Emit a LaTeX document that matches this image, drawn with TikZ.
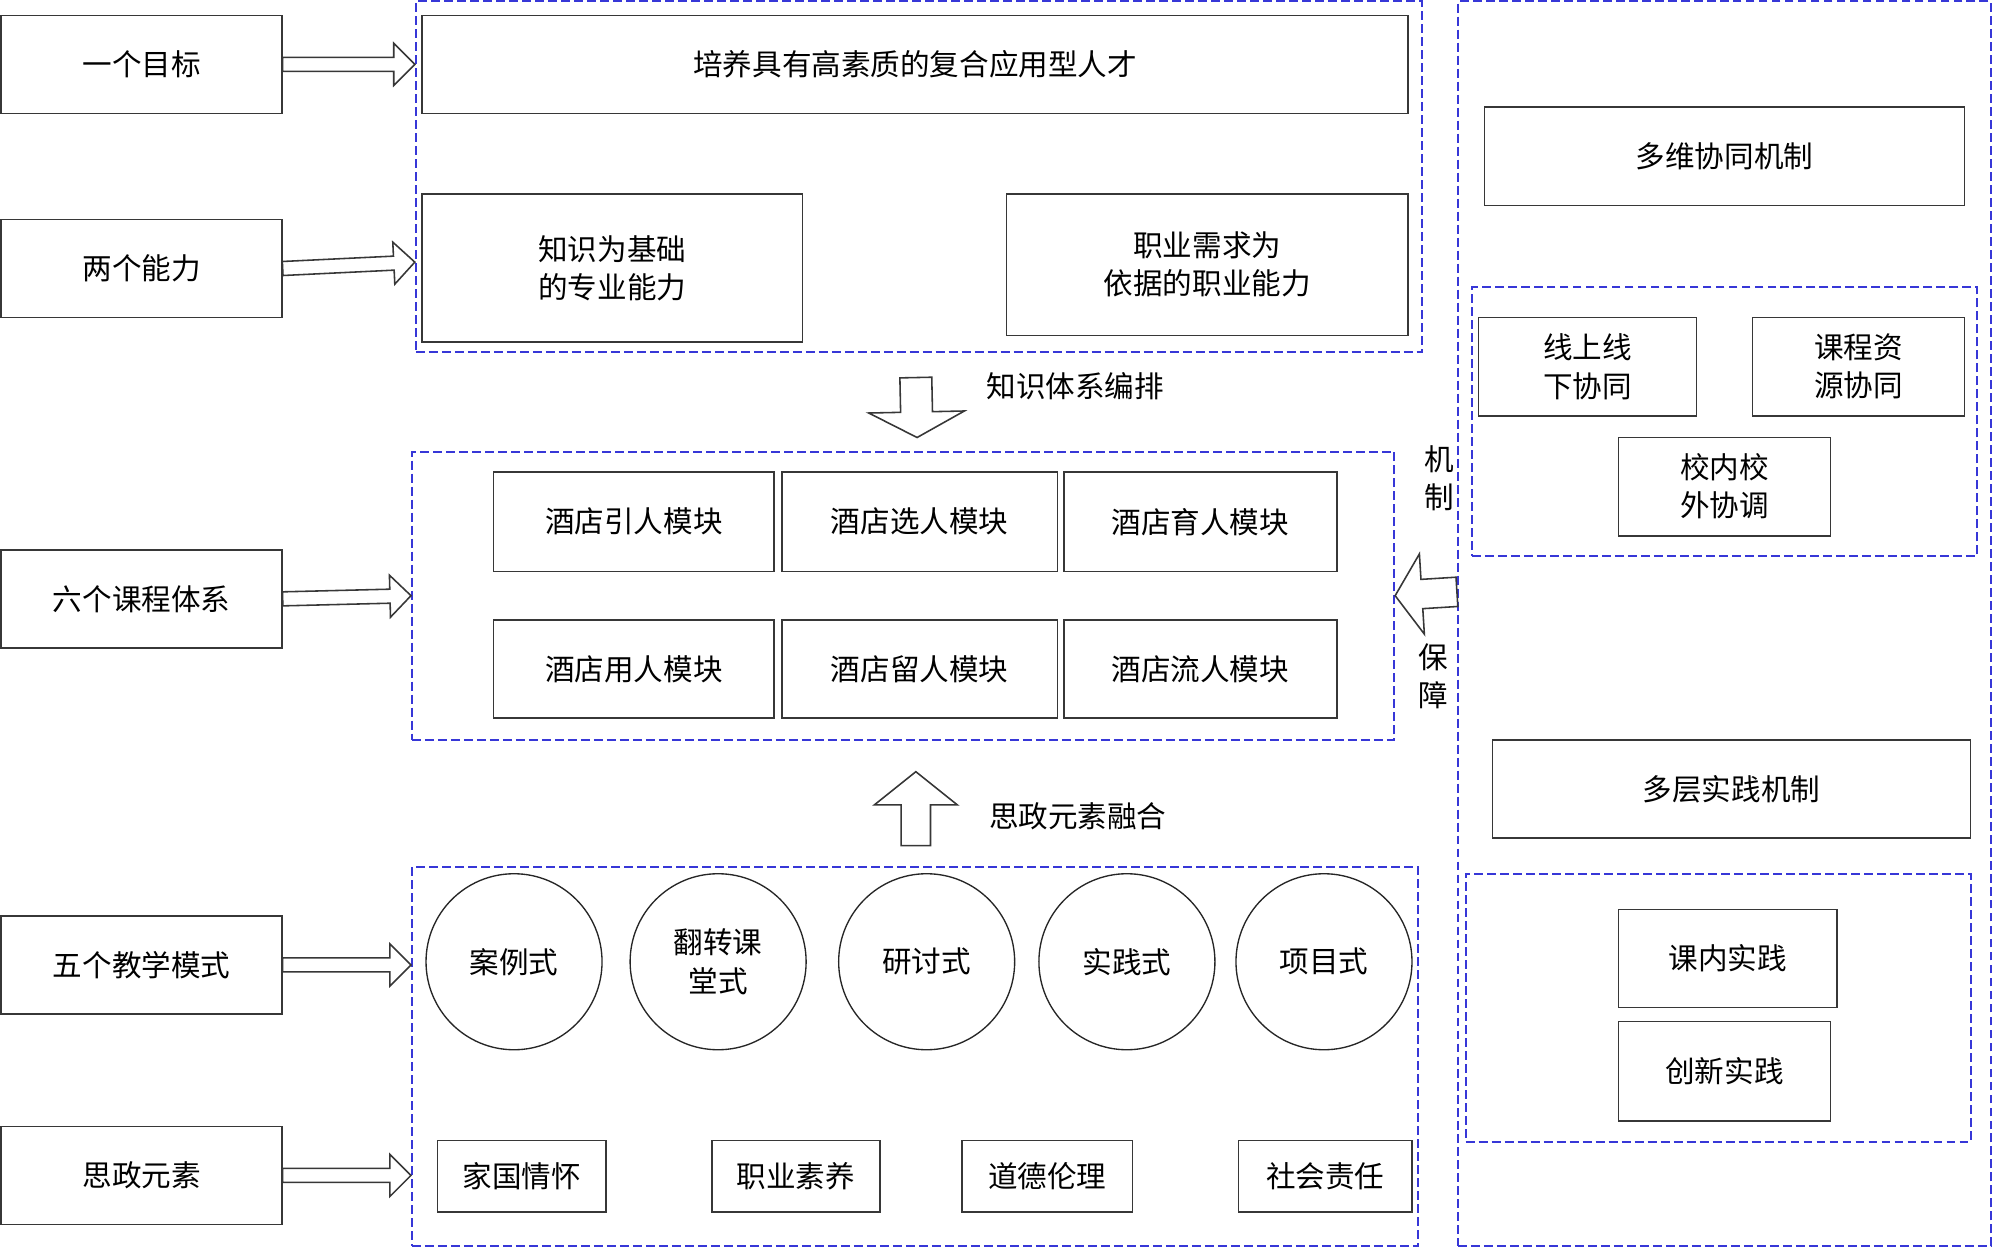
\documentclass[tikz,border=0pt]{standalone}
\usepackage{fontspec}
\setmainfont{Noto Sans CJK SC}
\usetikzlibrary{calc}
\definecolor{dashblue}{RGB}{55,55,215}
\definecolor{boxgray}{RGB}{55,55,55}
\newcommand\blockarr[5]{%
  \coordinate (ba-h) at ($(#2)!#5!(#1)$);
  \draw[arrowline] ($(#1)!#3!90:(#2)$) -- ($(ba-h)!#3!90:(#2)$) -- ($(ba-h)!#4!90:(#2)$) -- (#2)
     -- ($(ba-h)!#4!-90:(#2)$) -- ($(ba-h)!#3!-90:(#2)$) -- ($(#1)!#3!-90:(#2)$) -- cycle;
}
\tikzset{
  sz/.style 2 args={minimum width=#1*0.02cm, minimum height=#2*0.02cm},
  txt/.style={font=\fontsize{13.2}{17}\selectfont},
  bx/.style={draw=boxgray, line width=0.7pt, inner sep=0pt, align=center, txt},
  grp/.style={draw=dashblue, line width=0.9pt, dash pattern=on 4pt off 1.8pt, inner sep=0pt},
  circ/.style={draw=black!85, circle, line width=0.6pt, minimum size=138*0.02cm, inner sep=0pt, align=center, txt},
  lbl/.style={inner sep=0pt, align=center, txt},
  arrowline/.style={draw=boxgray, line width=0.7pt, fill=white, line join=miter},
}
\begin{document}
\begin{tikzpicture}[x=0.02cm, y=-0.02cm]
\fill[white] (0,0) rectangle (1568,984);
\useasboundingbox (0,0) rectangle (1568,984);

% dashed groups
\node[grp, sz={789}{275}] (topd) at (720.5,138.5) {};
\node[grp, sz={770}{226}] (midd) at (708,467) {};
\node[grp, sz={789}{297}] (botd) at (717.5,828.5) {};
\node[grp, sz={418}{976}] (rightd) at (1352,489) {};
\node[grp, sz={396}{211}] (ra) at (1352,330.5) {};
\node[grp, sz={396}{210}] (rb) at (1347,790) {};

% left column
\node[bx, sz={220}{77}] (L1) at (111,50.5) {一个目标};
\node[bx, sz={220}{77}] (L2) at (111,210.5) {两个能力};
\node[bx, sz={220}{77}] (L3) at (111,469.5) {六个课程体系};
\node[bx, sz={220}{77}] (L4) at (111,756.5) {五个教学模式};
\node[bx, sz={220}{77}] (L5) at (111,921.5) {思政元素};

% top group
\node[bx, sz={773}{77}] (G) at (717.5,50.5) {培养具有高素质的复合应用型人才};
\node[bx, sz={298}{116}] (K1) at (480,210) {知识为基础\\的专业能力};
\node[bx, sz={315}{111}] (K2) at (946.5,207.5) {职业需求为\\依据的职业能力};

% modules
\node[bx, sz={220}{78}] (M1) at (497,409) {酒店引人模块};
\node[bx, sz={216}{78}] (M2) at (721,409) {酒店选人模块};
\node[bx, sz={214}{78}] (M3) at (941,409) {酒店育人模块};
\node[bx, sz={220}{77}] (M4) at (497,524.5) {酒店用人模块};
\node[bx, sz={216}{77}] (M5) at (721,524.5) {酒店留人模块};
\node[bx, sz={214}{77}] (M6) at (941,524.5) {酒店流人模块};

% teaching modes
\node[circ] (C1) at (403,754) {案例式};
\node[circ] (C2) at (563,754) {翻转课\\堂式};
\node[circ] (C3) at (726.5,754) {研讨式};
\node[circ] (C4) at (883.5,754) {实践式};
\node[circ] (C5) at (1038,754) {项目式};

% ideological elements
\node[bx, sz={132}{56}] (S1) at (409,922) {家国情怀};
\node[bx, sz={132}{56}] (S2) at (624,922) {职业素养};
\node[bx, sz={134}{56}] (S3) at (821,922) {道德伦理};
\node[bx, sz={136}{56}] (S4) at (1039,922) {社会责任};

% right column
\node[bx, sz={376}{77}] (R1) at (1352,122.5) {多维协同机制};
\node[bx, sz={171}{77}] (RA1) at (1244.5,287.5) {线上线\\下协同};
\node[bx, sz={166}{77}] (RA2) at (1457,287.5) {课程资\\源协同};
\node[bx, sz={166}{77}] (RA3) at (1352,381.5) {校内校\\外协调};
\node[bx, sz={375}{77}] (R2) at (1357.5,618.5) {多层实践机制};
\node[bx, sz={171}{77}] (RB1) at (1354.5,751.5) {课内实践};
\node[bx, sz={166}{78}] (RB2) at (1352,840) {创新实践};

% labels
\node[lbl] (lab1) at (843,303) {知识体系编排};
\node[lbl] (lab2) at (845,640) {思政元素融合};
\node[lbl] (lab3) at (1128,375) {机\\制};
\node[lbl] (lab4) at (1124,530) {保\\障};

% block arrows
\coordinate (a1t) at (topd.west |- L1.east);
\coordinate (a2t) at ($(topd.west |- L2.east)+(0,-5)$);
\coordinate (a3t) at ($(midd.west |- L3.east)+(0,-2.5)$);
\coordinate (a4t) at (botd.west |- L4.east);
\coordinate (a5t) at (botd.west |- L5.east);
\blockarr{L1.east}{a1t}{0.11cm}{0.33cm}{0.33cm}
\blockarr{L2.east}{a2t}{0.11cm}{0.33cm}{0.33cm}
\blockarr{L3.east}{a3t}{0.11cm}{0.33cm}{0.33cm}
\blockarr{L4.east}{a4t}{0.11cm}{0.33cm}{0.33cm}
\blockarr{L5.east}{a5t}{0.11cm}{0.33cm}{0.33cm}

\coordinate (dA) at (718,296);
\coordinate (dB) at (719,343);
\blockarr{dA}{dB}{0.25cm}{0.75cm}{0.4cm}
\coordinate (uA) at (718,663);
\coordinate (uB) at (718,605);
\blockarr{uA}{uB}{0.23cm}{0.65cm}{0.52cm}
\coordinate (lA) at ($(rightd.west |- midd.east)+(0,-3)$);
\blockarr{lA}{midd.east}{0.23cm}{0.63cm}{0.42cm}
\end{tikzpicture}
\end{document}
